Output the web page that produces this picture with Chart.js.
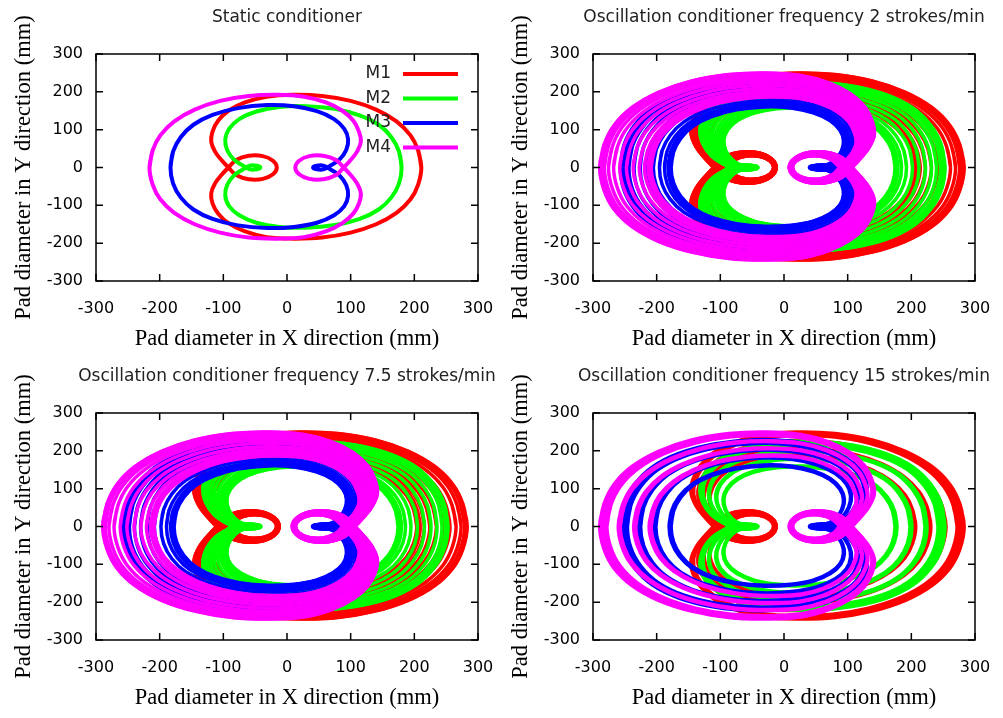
<!DOCTYPE html>
<html>
<head>
<meta charset="utf-8">
<script src="https://cdn.jsdelivr.net/npm/chart.js@4.4.1/dist/chart.umd.min.js"></script>
<style>
  body { margin: 0; background: #fff; }
  #wrap { position: relative; width: 1003px; height: 718px; }
  canvas { position: absolute; }
</style>
</head>
<body>
<div id="wrap">
  <canvas id="c1" width="501" height="359" style="left:0;top:0"></canvas>
  <canvas id="c2" width="501" height="359" style="left:497px;top:0"></canvas>
  <canvas id="c3" width="501" height="359" style="left:0;top:359px"></canvas>
  <canvas id="c4" width="501" height="359" style="left:497px;top:359px"></canvas>
</div>
<script>
const m1Curve = [[211,0],[206,45],[194,85],[172,122],[140,153],[100,176],[55,189],[10,192],[-32,187],[-66,172],[-92,150],[-108,124],[-117,95],[-119,68],[-113,42],[-103,20],[-92,0],[-80,-20],[-60,-31],[-38,-30],[-22,-18],[-16,0],[-22,18],[-38,30],[-60,31],[-80,20],[-92,0],[-103,-20],[-113,-42],[-119,-68],[-117,-95],[-108,-122],[-92,-147],[-66,-169],[-32,-184],[10,-188],[55,-185],[100,-172],[140,-150],[172,-120],[194,-84],[206,-45],[211,0]];
const m2Curve = [[180,0],[176,42],[164,80],[144,113],[114,138],[75,155],[30,162],[-12,160],[-48,148],[-75,128],[-91,102],[-97,74],[-94,46],[-84,22],[-70,6],[-58,-5],[-46,-4],[-42,0],[-46,4],[-58,5],[-70,-6],[-84,-22],[-94,-46],[-97,-74],[-91,-102],[-75,-126],[-48,-146],[-12,-157],[30,-159],[75,-152],[114,-136],[144,-111],[164,-79],[176,-42],[180,0]];
const m3Curve = [[-183,0],[-179,42],[-167,80],[-147,113],[-117,139],[-77,157],[-31,165],[11,162],[47,149],[74,128],[90,102],[96,74],[93,46],[83,22],[69,6],[57,-5],[45,-4],[41,0],[45,4],[57,5],[69,-6],[83,-22],[93,-46],[96,-74],[90,-102],[74,-126],[47,-146],[11,-157],[-31,-160],[-77,-153],[-117,-136],[-147,-111],[-167,-79],[-179,-42],[-183,0]];
const m4Curve = [[-216,0],[-211,45],[-199,85],[-177,122],[-145,153],[-105,176],[-60,189],[-15,192],[27,187],[61,172],[87,150],[104,124],[113,95],[116,68],[110,42],[100,20],[89,0],[77,-20],[57,-31],[35,-30],[19,-18],[13,0],[19,18],[35,30],[57,31],[77,20],[89,0],[100,-20],[110,-42],[116,-68],[113,-95],[104,-122],[87,-147],[61,-169],[27,-184],[-15,-188],[-60,-185],[-105,-172],[-145,-150],[-177,-120],[-199,-84],[-211,-45],[-216,0]];

const motorNames = ["M1", "M2", "M3", "M4"];
const motorColors = ["#ff0000", "#00ff00", "#0000ff", "#ff00ff"];

// Oscilação: centro e escala mínima/máxima de cada trajetória
const sweepCenter = [-29, -7, 7, 29];
const sweepMin = [0.97, 0.97, 0.97, 0.97];
const sweepMax = [1.30, 1.39, 1.39, 1.30];

// Posições do braço ao longo do curso (0 = início, 1 = fim)
const sweep2 = [0, 0.02, 0.06, 0.13, 0.23, 0.35, 0.48, 0.61, 0.73, 0.83, 0.91, 0.96, 0.99, 1];
const sweep75 = [0, 0.02, 0.07, 0.15, 0.26, 0.39, 0.53, 0.66, 0.78, 0.88, 0.95, 0.99, 1];
const sweep15 = [0, 0.04, 0.3, 0.34, 0.6, 0.64, 0.86, 0.9, 0.95, 1];

const axisTicks = [-300, -200, -100, 0, 100, 200, 300];
const plotTitles = [
  "Static conditioner",
  "Oscillation conditioner frequency 2 strokes/min",
  "Oscillation conditioner frequency 7.5 strokes/min",
  "Oscillation conditioner frequency 15 strokes/min"
];
const xTitle = "Pad diameter in X direction (mm)";
const yTitle = "Pad diameter in Y direction (mm)";

const curves = [m1Curve, m2Curve, m3Curve, m4Curve];

// Funções
const toPoints = (curve, c, s) => {
  const pts = curve.map(([x, y]) => ({ x: c + s * (x - c), y: s * y }));
  pts.push(pts[1]);
  return pts;
};

const buildDatasets = (sweep) => {
  const sets = [];
  curves.forEach((curve, m) => {
    const positions = sweep ? sweep : [null];
    positions.forEach((u) => {
      const s = u === null ? 1 : sweepMin[m] + u * (sweepMax[m] - sweepMin[m]);
      sets.push({
        label: motorNames[m],
        data: toPoints(curve, sweepCenter[m], s),
        borderColor: motorColors[m],
        borderWidth: sweep ? 3.5 : 4,
        showLine: true,
        pointRadius: 0,
        tension: 0.4,
        fill: false,
        order: 4 - m
      });
    });
  });
  return sets;
};

const makeScale = (axis) => ({
  type: "linear",
  min: -300,
  max: 300,
  afterBuildTicks: (scale) => {
    scale.ticks = axisTicks.map((v) => ({ value: v }));
  },
  afterFit: (scale) => {
    if (axis === "x") scale.height = 78;
    else scale.width = 96;
  },
  grid: { display: false, drawTicks: true, tickLength: axis === "x" ? 15 : 0 },
  border: { display: false },
  ticks: {
    font: { family: "DejaVu Sans", size: 16 },
    color: "#000",
    padding: axis === "x" ? 3 : 13,
    maxRotation: 0,
    autoSkip: false
  },
  title: {
    display: true,
    text: axis === "x" ? xTitle : yTitle,
    font: { family: "Liberation Serif", size: 22.5 },
    color: "#000",
    padding: axis === "x" ? { top: 0, bottom: 6 } : { top: 11, bottom: 0 }
  }
});

const framePlugin = {
  id: "frame",
  afterDatasetsDraw(chart, args, opts) {
    const { ctx, chartArea: a, scales } = chart;
    ctx.save();
    ctx.strokeStyle = "#000";
    ctx.lineWidth = 1.5;
    ctx.strokeRect(a.left, a.top, a.right - a.left, a.bottom - a.top);
    ctx.beginPath();
    axisTicks.forEach((v) => {
      const x = scales.x.getPixelForValue(v);
      ctx.moveTo(x, a.bottom);
      ctx.lineTo(x, a.bottom - 7);
      ctx.moveTo(x, a.top);
      ctx.lineTo(x, a.top + 7);
      const y = scales.y.getPixelForValue(v);
      ctx.moveTo(a.left, y);
      ctx.lineTo(a.left + 7, y);
      ctx.moveTo(a.right, y);
      ctx.lineTo(a.right - 7, y);
    });
    ctx.stroke();

    // título do gráfico
    ctx.fillStyle = "#222";
    ctx.font = "17px 'DejaVu Sans'";
    ctx.textAlign = "center";
    ctx.textBaseline = "middle";
    ctx.fillText(opts.title, (a.left + a.right) / 2, 18);

    // legenda só no gráfico estático
    if (opts.legend) {
      ctx.textAlign = "right";
      ctx.lineWidth = 4;
      motorNames.forEach((name, i) => {
        const y = 74 + i * 24.5;
        ctx.fillStyle = "#222";
        ctx.fillText(name, a.right - 87, y);
        ctx.strokeStyle = motorColors[i];
        ctx.beginPath();
        ctx.moveTo(a.right - 75, y);
        ctx.lineTo(a.right - 20, y);
        ctx.stroke();
      });
    }
    ctx.restore();
  }
};

const makeChart = (id, title, sweep, legend) => {
  const ctx = document.querySelector(id).getContext("2d");
  return new Chart(ctx, {
    type: "scatter",
    data: { datasets: buildDatasets(sweep) },
    options: {
      responsive: false,
      animation: false,
      devicePixelRatio: 1,
      layout: { padding: { left: 0, right: 23, top: 54, bottom: 0 } },
      scales: { x: makeScale("x"), y: makeScale("y") },
      plugins: {
        legend: { display: false },
        tooltip: { enabled: false },
        frame: { title: title, legend: legend }
      }
    },
    plugins: [framePlugin]
  });
};

makeChart("#c1", plotTitles[0], null, true);
makeChart("#c2", plotTitles[1], sweep2, false);
makeChart("#c3", plotTitles[2], sweep75, false);
makeChart("#c4", plotTitles[3], sweep15, false);
</script>
</body>
</html>
